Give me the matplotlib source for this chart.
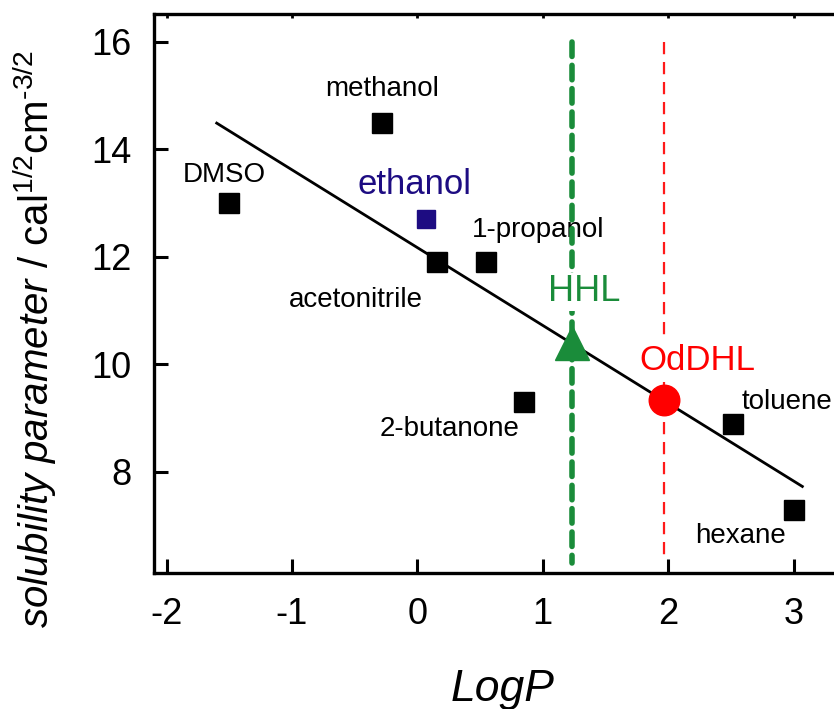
import matplotlib
matplotlib.use("Agg")
import matplotlib.pyplot as plt

plt.rcParams['font.family'] = ['Liberation Sans', 'DejaVu Sans']
plt.rcParams['mathtext.fontset'] = 'custom'
plt.rcParams['mathtext.rm'] = 'Liberation Sans'
plt.rcParams['mathtext.it'] = 'Liberation Sans:italic'
plt.rcParams['axes.unicode_minus'] = False

# solvents: LogP vs solubility parameter
solvents = ['DMSO', 'methanol', 'acetonitrile', '1-propanol', '2-butanone', 'toluene', 'hexane']
logp = [-1.5, -0.28, 0.16, 0.55, 0.85, 2.52, 3.0]
delta = [13.0, 14.5, 11.9, 11.9, 9.3, 8.9, 7.3]

ethanol_x, ethanol_y = 0.07, 12.7
hhl_x, hhl_y = 1.23, 10.4
oddhl_x, oddhl_y = 1.97, 9.33

fit_x = [-1.6, 3.07]
fit_y = [14.49, 7.73]

# label positions (data coords)
label_pos = {
    'DMSO': (-1.54, 13.53),
    'methanol': (-0.28, 15.13),
    'acetonitrile': (-0.49, 11.2),
    '1-propanol': (0.96, 12.5),
    '2-butanone': (0.26, 8.8),
    'toluene': (2.95, 9.3),
    'hexane': (2.58, 6.8),
}

fig = plt.figure(figsize=(8.34, 7.09), dpi=100)
ax = fig.add_axes([154/834, 136/709, (850-154)/834, (573-14)/709])

ax.plot(fit_x, fit_y, color='black', lw=2, zorder=2)
ax.plot([hhl_x, hhl_x], [16.0, 6.3], color='#1a8c3a', lw=4, ls=(0, (2.6, 1.6)),
        dash_capstyle='round', zorder=3)
ax.plot([oddhl_x, oddhl_x], [16.0, 6.45], color='#ff1a1a', lw=1.6, ls=(0, (5.5, 3.5)), zorder=1)

ax.plot(logp, delta, 's', color='black', ms=15, zorder=4)
ax.plot(ethanol_x, ethanol_y, 's', color='#1d0c82', ms=13, zorder=4)
ax.plot(hhl_x, hhl_y, '^', color='#1a8c3a', ms=24, zorder=5)
ax.plot(oddhl_x, oddhl_y, 'o', color='#ff0000', ms=22, zorder=5)

for name in solvents:
    tx, ty = label_pos[name]
    ax.text(tx, ty, name, fontsize=20, ha='center', va='center', zorder=2)
ax.text(-0.02, 13.34, 'ethanol', fontsize=25, color='#1d0c82', ha='center', va='center')
ax.text(1.33, 11.35, 'HHL', fontsize=26, color='#1a8c3a', ha='center', va='center',
        zorder=4, bbox=dict(facecolor='white', edgecolor='none', pad=1))
ax.text(2.23, 10.08, 'OdDHL', fontsize=25, color='#ff0000', ha='center', va='center',
        zorder=4, bbox=dict(facecolor='white', edgecolor='none', pad=1))

ax.set_xlim(-2.1, 3.45)
ax.set_ylim(6.12, 16.52)
ax.set_xticks([-2, -1, 0, 1, 2, 3])
ax.set_yticks([8, 10, 12, 14, 16])
ax.tick_params(axis='both', direction='in', length=10, width=2.2, labelsize=26, pad=16)
ax.tick_params(axis='x', pad=17)
for sp in ax.spines.values():
    sp.set_linewidth(2.4)

# small ticks along the top spine
top = ax.secondary_xaxis('top')
top.set_xticks([-2, -1, 0, 1, 2, 3])
top.tick_params(direction='in', length=3, width=2, labeltop=False)

ax.set_xlabel('LogP', fontsize=32, style='italic')
ax.xaxis.set_label_coords(0.501, -0.172)
ax.set_ylabel(r'$\it{solubility\ parameter}$ / cal$^{1/2}$cm$^{\text{-}3/2}$', fontsize=29)
ax.yaxis.set_label_coords(-0.136, 0.419)

fig.savefig('out.png', dpi=100)
